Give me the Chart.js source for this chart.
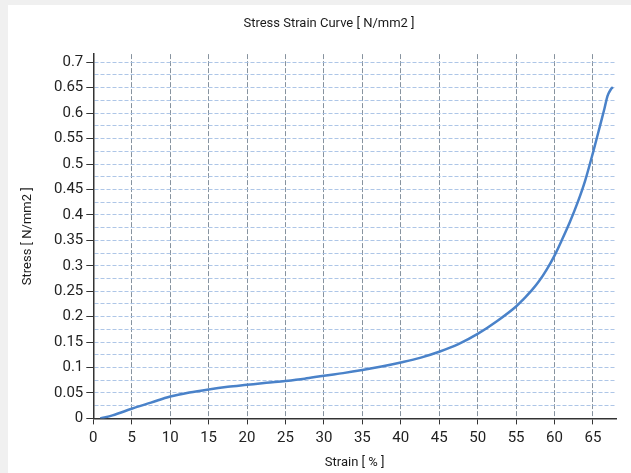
<!DOCTYPE html>
<html>
<head>
<meta charset="utf-8">
<script src="https://cdn.jsdelivr.net/npm/chart.js@4/dist/chart.umd.min.js"></script>
<style>
    body {
        margin : 0;
        background : #f0f0f0;
        width : 631px;
        height : 473px;
        overflow : hidden;
    }

    .panel {
        position : absolute;
        left : 8px;
        top : 5px;
        width : 623px;
        height : 468px;
        background : #FFFFFF;
    }
</style>
</head>
<body>
<div class="panel">
    <canvas id="chart" width="623" height="468"></canvas>
</div>
<script>
// strain [%] and stress [N/mm2]
var strain = [0.9, 2.5, 5, 7.5, 10, 12.5, 15, 17.5, 20, 22.5, 25, 27.5, 30, 32.5, 35, 37.5, 40,
    42.5, 45, 47.5, 50, 52.5, 55, 56, 57, 58, 59, 60, 61, 62, 63, 64, 65, 65.9, 66.5, 66.9, 67.3, 67.6];
var stress = [0, 0.006, 0.019, 0.031, 0.043, 0.051, 0.057, 0.062, 0.066, 0.070, 0.0735, 0.078, 0.084,
    0.089, 0.095, 0.102, 0.110, 0.119, 0.131, 0.146, 0.166, 0.191, 0.220, 0.235, 0.251, 0.270, 0.293,
    0.320, 0.352, 0.386, 0.424, 0.468, 0.522, 0.574, 0.609, 0.634, 0.646, 0.651];

var xTicks = [0, 5, 10, 15, 20, 25, 30, 35, 40, 45, 50, 55, 60, 65];
var yTicks = [0, 0.05, 0.1, 0.15, 0.2, 0.25, 0.3, 0.35, 0.4, 0.45, 0.5, 0.55, 0.6, 0.65, 0.7];

var TICK_FONT = { family: "Roboto", size: 15 };
var LABEL_FONT = { family: "Roboto", size: 13 };

// major ticks carry a label, a dashed line sits halfway between them
function yGridTicks() {
    var list = [];
    yTicks.forEach((v, i) => {
        list.push({ value: v, label: String(v) });
        if (i < yTicks.length - 1) {
            list.push({ value: (v + yTicks[i + 1]) / 2, label: "", isMinor: true });
        }
    });
    return list;
}

var points = strain.map((s, i) => ({ x: s, y: stress[i] }));

new Chart(document.getElementById("chart"), {
    type: "line",
    data: {
        datasets: [{
            label: "Stress",
            data: points,
            borderColor: "#4a82c9",
            borderWidth: 2.5,
            pointRadius: 0,
            cubicInterpolationMode: "monotone",
            fill: false
        }]
    },
    options: {
        responsive: false,
        animation: false,
        layout: {
            padding: { left: 34, right: 15, top: 0, bottom: 0 }
        },
        plugins: {
            legend: { display: false },
            tooltip: { enabled: false },
            title: {
                display: true,
                text: "Stress Strain Curve [ N/mm2 ]",
                color: "#1a1a1a",
                font: { family: "Roboto", size: 13, weight: "normal" },
                padding: { top: 11, bottom: 22.5 }
            }
        },
        scales: {
            x: {
                type: "linear",
                min: 0,
                max: 68,
                afterBuildTicks: scale => {
                    scale.ticks = xTicks.map(v => ({ value: v, label: String(v) }));
                },
                ticks: {
                    autoSkip: false,
                    maxRotation: 0,
                    padding: 5,
                    color: "#222",
                    font: TICK_FONT,
                    callback: (value) => String(value)
                },
                grid: {
                    color: "rgba(105, 120, 135, 0.8)",
                    lineWidth: 1,
                    tickLength: 6,
                    tickColor: "#333",
                    tickWidth: 1
                },
                border: { display: true, color: "#333", width: 1.5, dash: [5, 2] },
                title: {
                    display: true,
                    text: "Strain [ % ]",
                    color: "#1a1a1a",
                    font: LABEL_FONT,
                    padding: { top: 3, bottom: 2 }
                }
            },
            y: {
                type: "linear",
                min: 0,
                max: 0.716,
                afterBuildTicks: scale => {
                    scale.ticks = yGridTicks();
                },
                afterFit: scale => {
                    scale.width = 51.3;
                },
                ticks: {
                    autoSkip: false,
                    padding: 3,
                    color: "#222",
                    font: TICK_FONT,
                    callback: function (value, index) {
                        return this.ticks[index].label;
                    }
                },
                grid: {
                    color: "rgba(165, 192, 228, 0.9)",
                    lineWidth: 1,
                    tickLength: 7,
                    tickWidth: 1,
                    tickColor: ctx => ctx.tick && ctx.tick.isMinor ? "rgba(0,0,0,0)" : "#333"
                },
                border: { display: true, color: "#333", width: 1.5, dash: [4, 2] },
                title: {
                    display: true,
                    text: "Stress [ N/mm2 ]",
                    color: "#1a1a1a",
                    font: LABEL_FONT,
                    padding: { top: -22, bottom: 0 }
                }
            }
        }
    }
});
</script>
</body>
</html>
